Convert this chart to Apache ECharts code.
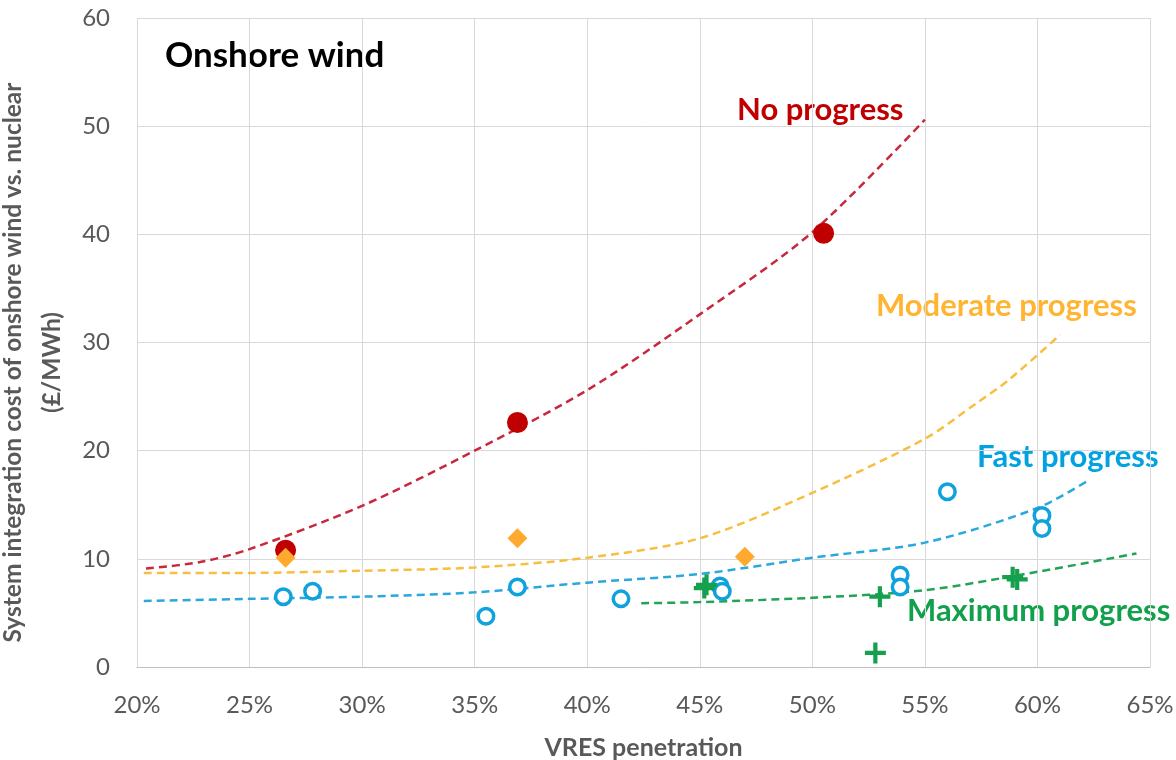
<!DOCTYPE html>
<html>
<head>
<meta charset="utf-8">
<script src="https://cdn.jsdelivr.net/npm/echarts@6/dist/echarts.min.js"></script>
<style>
  html, body { margin: 0; padding: 0; background: #fff; }
  #chart { width: 1176px; height: 760px; }
</style>
</head>
<body>
<div id="chart"></div>
<script>
// scatter points [VRES %, £/MWh]
var noProgress = [[26.6, 10.8], [36.9, 22.6], [50.5, 40.1]];
var moderateProgress = [[26.6, 10.1], [36.9, 11.9], [47.0, 10.2]];
var fastProgress = [[26.5, 6.5], [27.8, 7.0], [35.5, 4.7], [36.9, 7.4], [41.5, 6.3],
  [45.9, 7.5], [46.0, 7.0], [53.9, 8.5], [53.9, 7.4], [56.0, 16.2], [60.2, 14.0], [60.2, 12.8]];
var maxProgress = [[45.2, 7.3], [45.3, 7.6], [53.0, 6.5], [52.8, 1.3], [58.9, 8.3], [59.1, 8.1]];

// trend lines
var noTrend = [[20.4, 9.1], [22.8, 9.7], [25, 10.9], [30, 14.9], [35, 20.0], [40, 25.6], [45, 32.6], [50, 40.2], [55, 50.6]];
var moderateTrend = [[20.3, 8.7], [25, 8.7], [30, 8.9], [35, 9.2], [40, 10.1], [45, 11.9], [50, 16.1], [55, 21.1], [57.3, 24.4], [58.7, 26.5], [61, 30.7]];
var fastTrend = [[20.3, 6.1], [25, 6.3], [30, 6.5], [35, 6.9], [40, 7.8], [45, 8.6], [50, 10.1], [55, 11.5], [60, 14.7], [62.3, 17.3]];
var maxTrend = [[42.4, 5.9], [45, 6.0], [50, 6.4], [55, 7.1], [60, 8.8], [64.4, 10.5]];

var plus = 'path://M4,0 H6 V4 H10 V6 H6 V10 H4 V6 H0 V4 H4 Z';
var font = 'Lato, "Open Sans", sans-serif';

var chart = echarts.init(document.getElementById('chart'));

function trend(data, color) {
  return {
    type: 'line', data: data, smooth: 0.3, showSymbol: false, silent: true,
    lineStyle: { color: color, width: 2.5, type: [8, 5] }, z: 1
  };
}

chart.setOption({
  animation: false,
  textStyle: { fontFamily: font },
  grid: { left: 137, right: 26, top: 18, bottom: 93, outerBoundsMode: 'none', containLabel: false },
  xAxis: {
    type: 'value', min: 20, max: 65, interval: 5,
    name: 'VRES penetration', nameLocation: 'middle', nameGap: 68,
    nameTextStyle: { fontSize: 25, fontWeight: 'bold', color: '#595959', fontFamily: font },
    axisLine: { lineStyle: { color: '#BFBFBF' } },
    axisTick: { show: false },
    axisLabel: { formatter: '{value}%', fontSize: 24, color: '#595959', margin: 26, fontFamily: font },
    splitLine: { show: true, lineStyle: { color: '#D9D9D9' } }
  },
  yAxis: {
    type: 'value', min: 0, max: 60, interval: 10,
    name: 'System integration cost of onshore wind vs. nuclear\n(£/MWh)',
    nameLocation: 'middle', nameGap: 56,
    nameTextStyle: { fontSize: 24.5, fontWeight: 'bold', color: '#595959', lineHeight: 39,
      padding: [0, 40, 0, 0], fontFamily: font },
    axisLine: { show: false },
    axisTick: { show: false },
    axisLabel: { fontSize: 24, color: '#595959', margin: 27, fontFamily: font },
    splitLine: { lineStyle: { color: '#D9D9D9' } }
  },
  series: [
    trend(noTrend, '#C8283C'),
    trend(moderateTrend, '#F7BE42'),
    trend(fastTrend, '#2AA8DE'),
    trend(maxTrend, '#22A356'),
    { type: 'scatter', data: fastProgress, symbol: 'circle', symbolSize: 15.5,
      itemStyle: { color: '#fff', borderColor: '#0FA2DC', borderWidth: 3.5, opacity: 1 }, z: 3 },
    { type: 'scatter', data: maxProgress, symbol: plus, symbolSize: 21,
      itemStyle: { color: '#15A04E', opacity: 1 }, z: 4 },
    { type: 'scatter', data: noProgress, symbol: 'circle', symbolSize: 21,
      itemStyle: { color: '#C00000', opacity: 1 }, z: 5 },
    { type: 'scatter', data: moderateProgress, symbol: 'diamond', symbolSize: 20,
      itemStyle: { color: '#FFAA2E', opacity: 1 }, z: 6 }
  ],
  graphic: [
    { type: 'text', left: 165, top: 38, style: { text: 'Onshore wind', fill: '#000', font: 'bold 35px ' + font } },
    { type: 'text', left: 737, top: 94, style: { text: 'No progress', fill: '#C00000', font: 'bold 31px ' + font } },
    { type: 'text', left: 876, top: 290, style: { text: 'Moderate progress', fill: '#FFB432', font: 'bold 31px ' + font } },
    { type: 'text', left: 977, top: 441, style: { text: 'Fast progress', fill: '#00A3E0', font: 'bold 31px ' + font } },
    { type: 'text', left: 907, top: 595, style: { text: 'Maximum progress', fill: '#13A04C', font: 'bold 31px ' + font } }
  ]
});
</script>
</body>
</html>
